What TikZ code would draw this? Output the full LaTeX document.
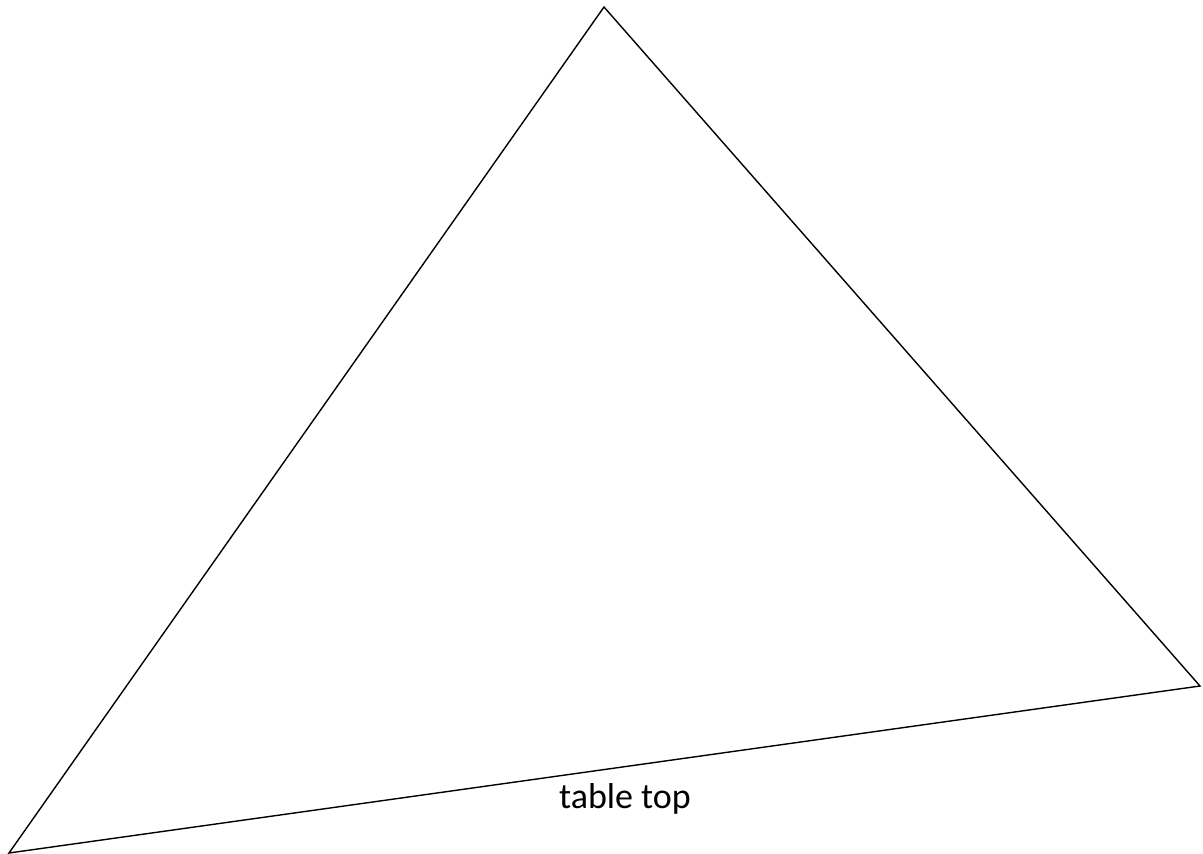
\documentclass[tikz,border=0pt]{standalone}
\usepackage{fontspec}
\setmainfont{Carlito}
\usepackage{tikz}

\begin{document}
\begin{tikzpicture}[x={(1pt,0pt)},y={(0pt,-1pt)},every node/.style={outer sep=0pt, inner sep=0pt, font=\fontsize{36}{42}\selectfont}]
\useasboundingbox (0,0) rectangle (1203,854);
\coordinate (apex) at (604,7);
\coordinate (right) at (1200,686);
\coordinate (left) at (9,853);
\draw[color=black,line width=1.4pt,line join=miter] (left) -- (apex) -- (right) -- cycle;
\node (label) at (625,799) {table top};
\end{tikzpicture}
\end{document}
